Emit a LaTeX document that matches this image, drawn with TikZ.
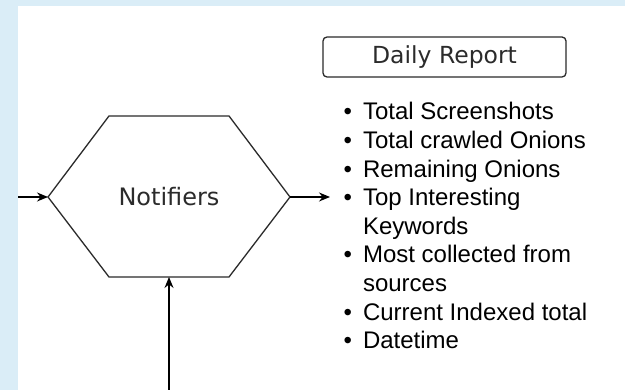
\documentclass[tikz,border=0pt]{standalone}
\usepackage{fontspec}
\setmainfont{Liberation Sans}
\newfontfamily\boxfont{DejaVu Sans}
\usepackage{tikz}
\usetikzlibrary{arrows.meta}
\definecolor{bgblue}{HTML}{DAEDF7}
\definecolor{linegray}{HTML}{2B2B2B}

\begin{document}
\begin{tikzpicture}[x=1pt,y=-1pt,line width=1.3pt,>={Stealth[length=11pt,width=9pt]},
    hexlabel/.style={inner sep=0pt,text=linegray,font=\boxfont\fontsize{24}{28}\selectfont},
    reportbox/.style={draw=linegray,rounded corners=4pt,minimum width=243pt,minimum height=40pt,inner sep=0pt,text=linegray,font=\boxfont\fontsize{23.5}{28}\selectfont}]
    \useasboundingbox (0,0) rectangle (625,390);
    \fill[bgblue] (0,0) rectangle (625,390);
    \fill[white] (18,6) rectangle (625,390);
    % the hexagon
    \coordinate (hl) at (48,197);
    \coordinate (hr) at (290,197);
    \coordinate (hb) at (169,277);
    \draw[linegray] (hl) -- (109,116) -- (229,116) -- (hr) -- (229,277) -- (hb) -- (109,277) -- cycle;
    \node[hexlabel] (notifiers) at (169,197) {Notifiers};
    % report
    \node[reportbox] (report) at (444.5,57) {Daily Report};
    \node[anchor=base west,inner sep=0pt,font=\fontsize{24}{28.6}\selectfont] (items) at (343,120)
        {\begin{tabular}[t]{@{}l@{\hspace{11pt}}l@{}}
        \textbullet & Total Screenshots\\
        \textbullet & Total crawled Onions\\
        \textbullet & Remaining Onions\\
        \textbullet & Top Interesting\\
                    & Keywords\\
        \textbullet & Most collected from\\
                    & sources\\
        \textbullet & Current Indexed total\\
        \textbullet & Datetime
        \end{tabular}};
    % arrows
    \coordinate (in) at (18,197);
    \coordinate (below) at (169,390);
    \coordinate (out) at (330,197);
    \draw[->] (in) -- (hl);
    \draw[->] (hr) -- (out);
    \draw[->] (below) -- (hb);
\end{tikzpicture}
\end{document}
